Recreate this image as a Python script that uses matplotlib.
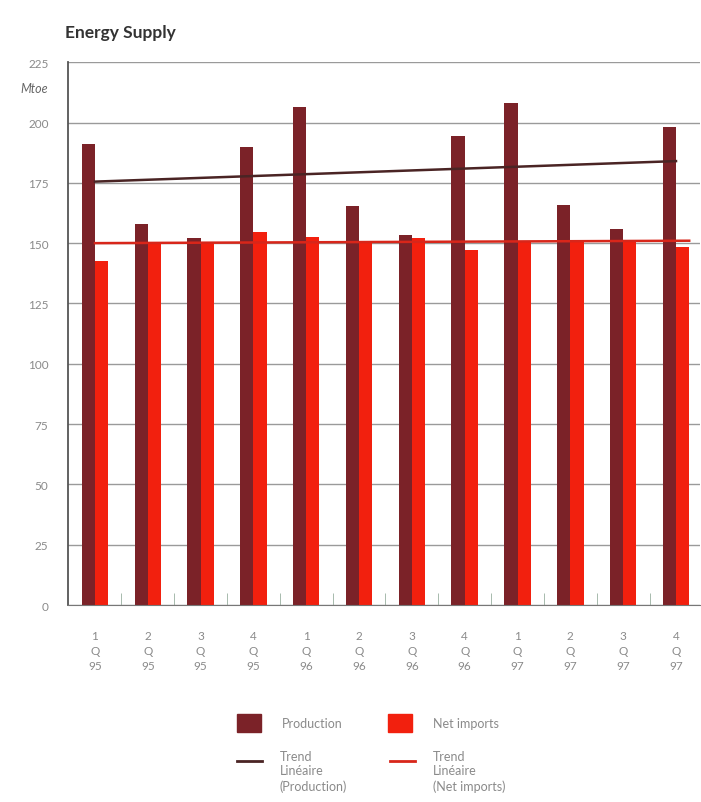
import matplotlib
matplotlib.use('Agg')
import matplotlib.pyplot as plt
import numpy as np
from matplotlib.lines import Line2D
from matplotlib.patches import Rectangle

# ─── DATOS ────────────────────────────────────────────────────────────────────
trimestres = ['1', '2', '3', '4', '1', '2', '3', '4', '1', '2', '3', '4']
anios      = ['95', '95', '95', '95', '96', '96', '96', '96', '97', '97', '97', '97']
produccion = [191, 158, 152, 190, 206.5, 165.5, 153.5, 194.5, 208, 166, 156, 198]
importes   = [142.5, 150.5, 150, 154.5, 152.5, 150.5, 152, 147, 151, 151, 151, 148.5]
# extremos de las líneas de tendencia
trend_prod = [175.5, 184]
trend_imp  = [150, 151]

COL_PROD = '#7b2228'
COL_IMP  = '#f2200e'
COL_TP   = '#4a2424'
COL_TI   = '#d8261a'
GRIS     = '#8a8a8a'

plt.rcParams['font.family'] = ['Lato', 'DejaVu Sans']

W, H = 701, 803
fig = plt.figure(figsize=(W / 100, H / 100), dpi=100)
ax = fig.add_axes([0.097, 0.2453, 0.902, 0.676])

x = np.arange(len(produccion))
w = 0.25
ax.bar(x - w / 2, produccion, width=w, color=COL_PROD, zorder=2)
ax.bar(x + w / 2, importes, width=w, color=COL_IMP, zorder=2)

ax.plot([x[0], x[-1]], trend_prod, color=COL_TP, lw=1.8, zorder=3)
ax.plot([x[0], x[-1] + 0.25], trend_imp, color=COL_TI, lw=1.8, zorder=3)

ax.set_xlim(-0.51, 11.46)
ax.set_ylim(0, 225)
ax.set_yticks(np.arange(0, 226, 25))
ax.yaxis.grid(True, color='#9a9a9a', lw=1.0, zorder=0)
ax.set_axisbelow(True)

ax.set_xticks(x)
ax.set_xticklabels([f'{t}\nQ\n{a}' for t, a in zip(trimestres, anios)],
                   fontsize=8.5, color=GRIS, linespacing=1.45)
ax.tick_params(axis='x', length=0, pad=18)
ax.set_xticks(x[:-1] + 0.5, minor=True)
ax.tick_params(axis='x', which='minor', direction='in', length=9, color='#99b0a0')
ax.tick_params(axis='y', length=0, labelsize=8.5, labelcolor=GRIS, pad=14)

for s in ['top', 'right']:
    ax.spines[s].set_visible(False)
ax.spines['left'].set_color('#555555')
ax.spines['left'].set_linewidth(1.3)
ax.spines['bottom'].set_color('#777777')

fig.text(65 / W, 1 - 38 / H, 'Energy Supply', fontsize=12.5, fontweight='bold', color='#333333')
fig.text(20 / W, 1 - 93 / H, 'Mtoe', fontsize=9, style='italic', color='#666666')

# ─── LEYENDA (manual) ─────────────────────────────────────────────────────────
def px(xp, yp):
    return xp / W, 1 - yp / H

entradas_caja = [(237, COL_PROD, 'Production'), (388, COL_IMP, 'Net imports')]
for x0, col, txt in entradas_caja:
    fx, fy = px(x0, 733)
    fig.patches.append(Rectangle((fx, fy), 24 / W, 18 / H, color=col,
                                 transform=fig.transFigure))
    tx, ty = px(x0 + 45, 724)
    fig.text(tx, ty, txt, fontsize=9, color=GRIS, va='center')

entradas_linea = [(237, COL_TP, 'Trend\nLinéaire\n(Production)'),
                  (390, COL_TI, 'Trend\nLinéaire\n(Net imports)')]
for x0, col, txt in entradas_linea:
    fx0, fy = px(x0, 762)
    fx1, _ = px(x0 + 25, 762)
    fig.lines.append(Line2D([fx0, fx1], [fy, fy], color=col, lw=2,
                            transform=fig.transFigure))
    tx, ty = px(x0 + 43, 751)
    fig.text(tx, ty, txt, fontsize=9, color=GRIS, va='top', linespacing=1.25)

fig.savefig('out.png', dpi=100)
